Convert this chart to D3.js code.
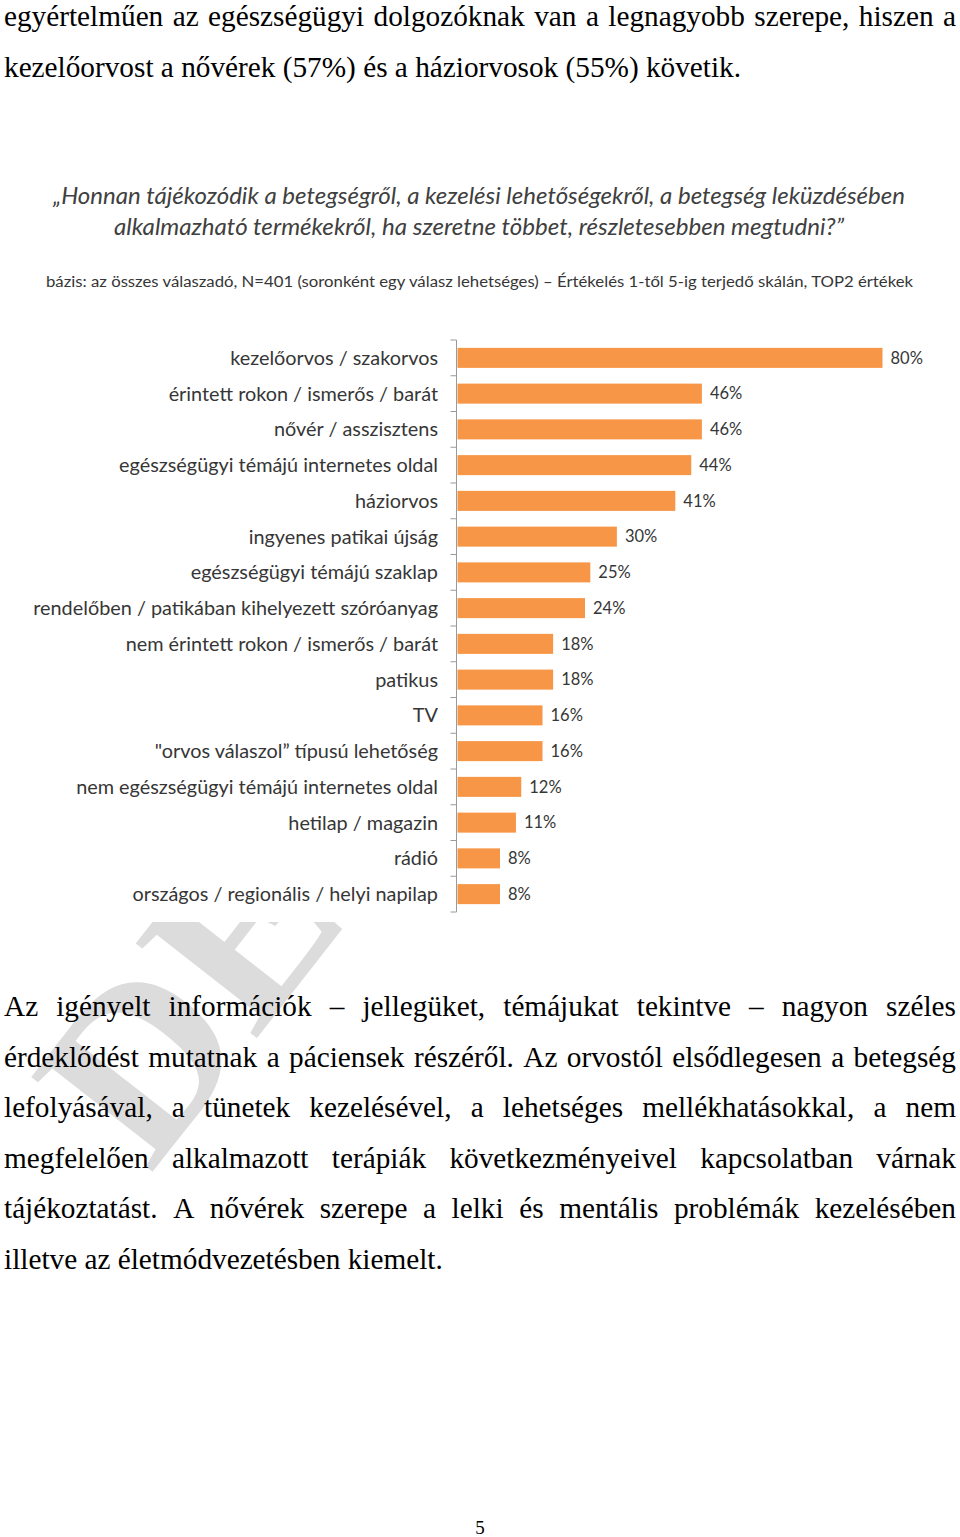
<!DOCTYPE html>
<html>
<head>
<meta charset="utf-8">
<script src="https://cdn.jsdelivr.net/npm/d3@7/dist/d3.min.js"></script>
<style>
  html, body { margin: 0; padding: 0; background: #fff; }
  svg { display: block; }
</style>
</head>
<body>
<div id="chart"></div>
<script>
// ---------------- DATA ----------------
const categories = [
  "kezelőorvos / szakorvos",
  "érintett rokon / ismerős / barát",
  "nővér / asszisztens",
  "egészségügyi témájú internetes oldal",
  "háziorvos",
  "ingyenes patikai újság",
  "egészségügyi témájú szaklap",
  "rendelőben / patikában kihelyezett szóróanyag",
  "nem érintett rokon / ismerős / barát",
  "patikus",
  "TV",
  "\"orvos válaszol” típusú lehetőség",
  "nem egészségügyi témájú internetes oldal",
  "hetilap / magazin",
  "rádió",
  "országos / regionális / helyi napilap"
];
const values = [80, 46, 46, 44, 41, 30, 25, 24, 18, 18, 16, 16, 12, 11, 8, 8];
const titleLines = [
  "„Honnan tájékozódik a betegségről, a kezelési lehetőségekről, a betegség leküzdésében",
  "alkalmazható termékekről, ha szeretne többet, részletesebben megtudni?”"
];
const subtitle = "bázis: az összes válaszadó, N=401 (soronként egy válasz lehetséges) – Értékelés 1-től 5-ig terjedő skálán, TOP2 értékek";
const paraTop = [
  "egyértelműen az egészségügyi dolgozóknak van a legnagyobb szerepe, hiszen a",
  "kezelőorvost a nővérek (57%) és a háziorvosok (55%) követik."
];
const paraBottom = [
  "Az igényelt információk – jellegüket, témájukat tekintve – nagyon széles",
  "érdeklődést mutatnak a páciensek részéről. Az orvostól elsődlegesen a betegség",
  "lefolyásával, a tünetek kezelésével, a lehetséges mellékhatásokkal, a nem",
  "megfelelően alkalmazott terápiák következményeivel kapcsolatban várnak",
  "tájékoztatást. A nővérek szerepe a lelki és mentális problémák kezelésében",
  "illetve az életmódvezetésben kiemelt."
];
const pageNumber = "5";
const watermark = "DEB";

// ---------------- SETUP ----------------
const W = 960, H = 1537;
const svg = d3.select("#chart").append("svg").attr("width", W).attr("height", H);
svg.append("rect").attr("width", W).attr("height", H).attr("fill", "#fff");

// watermark (hidden behind the chart picture above y=922)
svg.append("clipPath").attr("id", "wmclip")
  .append("rect").attr("x", 0).attr("y", 922).attr("width", W).attr("height", 400);
svg.append("g").attr("clip-path", "url(#wmclip)")
  .append("text")
  .attr("transform", "translate(150,1175) rotate(-52)")
  .attr("font-family", "Liberation Serif")
  .attr("font-weight", "bold")
  .attr("font-size", 235)
  .attr("fill", "#dcdcdc")
  .text(watermark);

// ---------------- BODY TEXT ----------------
const serif = "Liberation Serif";
const fs = 29;
function measure(txt) {
  const t = svg.append("text").attr("font-family", serif).attr("font-size", fs).text(txt);
  const w = t.node().getComputedTextLength();
  t.remove();
  return w;
}
const sx = 439 / measure(paraBottom[5]);
const lineWidth = 952 / sx;

function drawPara(lines, baseline0, lead) {
  const g = svg.append("g")
    .attr("transform", `translate(4,0) scale(${sx},1)`)
    .attr("font-family", serif).attr("font-size", fs).attr("fill", "#000");
  lines.forEach((line, i) => {
    const y = baseline0 + i * lead;
    const last = i === lines.length - 1;
    if (last) {
      g.append("text").attr("x", 0).attr("y", y).text(line);
      return;
    }
    const words = line.split(" ");
    const nodes = words.map(w => g.append("text").attr("y", y).text(w));
    const widths = nodes.map(n => n.node().getComputedTextLength());
    const gap = (lineWidth - d3.sum(widths)) / (words.length - 1);
    let x = 0;
    nodes.forEach((n, k) => { n.attr("x", x); x += widths[k] + gap; });
  });
}
drawPara(paraTop, 26, 50.6);
drawPara(paraBottom, 1016, 50.6);

svg.append("text").attr("x", 480).attr("y", 1534).attr("text-anchor", "middle")
  .attr("font-family", serif).attr("font-size", 19).text(pageNumber);

// ---------------- CHART ----------------
const sans = "Lato";
const grey = "#363636";

const tg = svg.append("g").attr("font-family", sans).attr("font-style", "italic")
  .attr("fill", "#404040").attr("font-size", 23).attr("text-anchor", "middle");
const titleW = [852, 730];
titleLines.forEach((t, i) => {
  tg.append("text").attr("x", 479).attr("y", 204 + i * 31)
    .attr("textLength", titleW[i]).attr("lengthAdjust", "spacingAndGlyphs").text(t);
});
svg.append("text").attr("x", 479.5).attr("y", 287).attr("text-anchor", "middle")
  .attr("font-family", sans).attr("font-size", 15.5).attr("fill", grey)
  .attr("textLength", 867).attr("lengthAdjust", "spacingAndGlyphs").text(subtitle);

const x = d3.scaleLinear().domain([0, 80]).range([457.5, 882.5]);
const y = d3.scaleBand().domain(categories).range([340, 912])
  .paddingInner(0.44).paddingOuter(0.22);

const chart = svg.append("g");
chart.selectAll("rect.bar").data(values).enter().append("rect")
  .attr("class", "bar")
  .attr("x", x(0))
  .attr("y", (d, i) => y(categories[i]))
  .attr("width", d => x(d) - x(0))
  .attr("height", y.bandwidth())
  .attr("fill", "#f79646");

// axis line and ticks at band boundaries
const bounds = categories.map(c => y(c) - y.step() * y.paddingInner() / 2);
bounds.push(bounds[bounds.length - 1] + y.step());
const axX = x(0) - 1;
chart.append("line").attr("x1", axX).attr("x2", axX)
  .attr("y1", bounds[0]).attr("y2", bounds[bounds.length - 1])
  .attr("stroke", "#9a9a9a").attr("stroke-width", 1);
chart.selectAll("line.tick").data(bounds).enter().append("line")
  .attr("class", "tick")
  .attr("x1", axX - 6).attr("x2", axX).attr("y1", d => d).attr("y2", d => d)
  .attr("stroke", "#9a9a9a").attr("stroke-width", 1);

// category labels
const lab = chart.append("g").attr("font-family", sans).attr("fill", grey).attr("text-anchor", "end");
const probe = lab.append("text").attr("font-size", 20).text(categories[7]);
const labFs = 20 * 405 / probe.node().getComputedTextLength();
probe.remove();
lab.attr("font-size", labFs);
lab.selectAll("text").data(categories).enter().append("text")
  .attr("x", 438)
  .attr("y", d => y(d) + y.bandwidth() / 2)
  .attr("dy", "0.35em")
  .text(d => d);

// value labels
chart.append("g").attr("font-family", sans).attr("font-size", 16.5).attr("fill", grey)
  .selectAll("text").data(values).enter().append("text")
  .attr("x", d => x(d) + 8)
  .attr("y", (d, i) => y(categories[i]) + y.bandwidth() / 2)
  .attr("dy", "0.35em")
  .text(d => d + "%");
</script>
</body>
</html>
